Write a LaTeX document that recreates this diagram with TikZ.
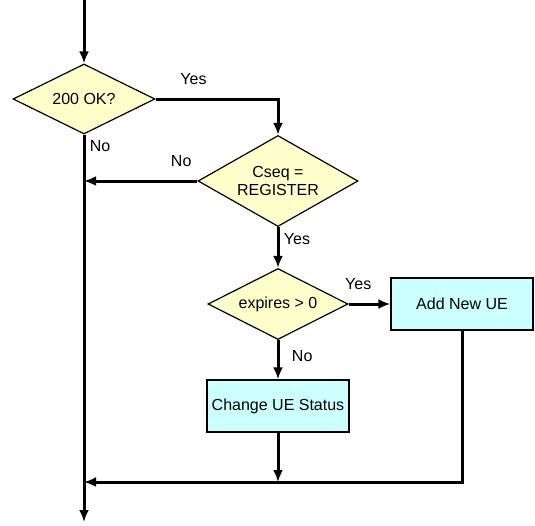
\documentclass[tikz,border=0pt]{standalone}
\usepackage{fontspec}
\setmainfont{Liberation Sans}
\usetikzlibrary{shapes.geometric,positioning,arrows.meta}
\definecolor{decfill}{RGB}{255,255,204}
\definecolor{procfill}{RGB}{204,255,255}

\begin{document}
\begin{tikzpicture}[on grid,line width=2.25pt,>={Latex[length=9pt,width=7.5pt]},
	font=\fontsize{12}{14}\selectfont,
	dec/.style = {draw, diamond, fill=decfill, line width=0.9pt, inner sep=0pt, aspect=2},
	proc/.style = {draw, rectangle, fill=procfill, line width=0.9pt, minimum width=106.5pt, minimum height=39pt, inner sep=0pt}]
		\useasboundingbox (0pt,0pt) rectangle (401.25pt,-393.75pt);
		%Decisions
		\node[dec, minimum width=106.5pt, minimum height=52.5pt] (1) at (63pt,-74.25pt) {200 OK?};
		\node[dec, minimum width=120pt, minimum height=68.25pt, align=center] (2) [below right=61.5pt and 145.5pt of 1] {Cseq =\\REGISTER};
		\node[dec, minimum width=105pt, minimum height=53.25pt] (3) [below=92.25pt of 2] {expires > 0};
		%Actions
		\node[proc] (4) [right=138pt of 3] {Add New UE};
		\node[proc] (5) [below=76.5pt of 3] {Change UE Status};
		%Free ends and joins
		\coordinate (6) at (63pt,0pt); %Entry
		\coordinate (7) at (63pt,-391.5pt); %Exit
		\coordinate (8) at (1 |- 2);
		\coordinate (9) at (63pt,-361.5pt);
		\coordinate (10) at (5 |- 9);
		
		%Main line
		\draw[->] (6) -- (1);
		\path [->] (1) edge node[below right, pos=0] {No} (7); %200 OK? -> exit
		
		%Branches
		\draw[->] (1) -| node[pos=0.155, above=6pt] {Yes} (2); %200 OK? -> Cseq
		\path [->] (2) edge node[above left, pos=0, yshift=6pt] {No} (8); %Cseq -> main line
		\path [->] (2) edge node[below right, pos=0] {Yes} (3); %Cseq -> expires
		\path [->] (3) edge node[above=6pt, pos=0.23] {Yes} (4); %expires -> add
		\path [->] (3) edge node[right=6pt, pos=0.41] {No} (5); %expires -> change
		
		%Back to main line
		\path [->] (5) edge (10);
		\draw[->] (4) |- (9);
	\end{tikzpicture}
\end{document}
